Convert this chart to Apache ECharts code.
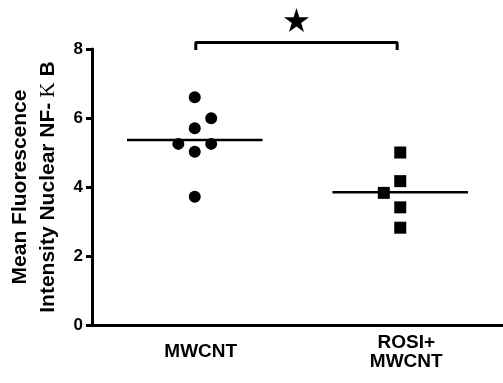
<!DOCTYPE html>
<html>
<head>
<meta charset="utf-8">
<script src="https://cdn.jsdelivr.net/npm/echarts@6/dist/echarts.min.js"></script>
<style>
  html, body { margin: 0; padding: 0; background: #fff; }
  #chart { width: 503px; height: 383px; }
</style>
</head>
<body>
<div id="chart"></div>
<script>
// groups and read-off values
const categories = ['MWCNT', 'ROSI+\nMWCNT'];
const mwcntValues = [6.60, 5.99, 5.70, 5.25, 5.25, 5.02, 3.72];
const mwcntJitter = [0, 0.16, 0, -0.16, 0.16, 0, 0];
const rosiValues = [5.00, 4.17, 3.83, 3.41, 2.82];
const rosiJitter = [0, 0, -0.16, 0, 0];
const yTicks = [0, 2, 4, 6, 8];

const groupPos = [1, 3];      // positions on the hidden value x axis
const meanHalf = 0.66;
const font = 'Liberation Sans, Arial, sans-serif';

const mean = (a) => a.reduce((s, v) => s + v, 0) / a.length;
const pts = (vals, jit, x0) => vals.map((v, i) => [x0 + jit[i], v]);
const meanLine = (vals, x0) => [[x0 - meanHalf, mean(vals)], [x0 + meanHalf, mean(vals)]];

const chart = echarts.init(document.getElementById('chart'));
chart.setOption({
  animation: false,
  grid: { left: 92, top: 49, bottom: 58, right: -9 },
  xAxis: [{
    type: 'category',
    data: categories,
    boundaryGap: true,
    axisLine: { lineStyle: { color: '#000', width: 3 } },
    axisTick: { show: false },
    axisLabel: {
      color: '#000', fontFamily: font, fontWeight: 'bold', fontSize: 19,
      lineHeight: 19, verticalAlign: 'middle', margin: 27,
      padding: [0, 0, 0, 12]
    }
  }, {
    type: 'value', min: 0, max: 4, show: false
  }],
  yAxis: {
    type: 'value', min: 0, max: 8, interval: 2,
    splitLine: { show: false },
    axisLine: { show: true, lineStyle: { color: '#000', width: 3 } },
    axisTick: { show: true, length: 6, lineStyle: { color: '#000', width: 3 } },
    axisLabel: {
      color: '#000', fontFamily: font, fontWeight: 'bold', fontSize: 17, margin: 9,
      formatter: (v) => (yTicks.includes(v) ? String(v) : '')
    },
    name: '{a|Mean Fluorescence}\n{a|Intensity Nuclear NF-}{k| Κ}{a| B}',
    nameLocation: 'middle',
    nameRotate: 90,
    nameGap: 30,
    nameTextStyle: {
      rich: {
        a: { fontFamily: font, fontWeight: 'bold', fontSize: 21, color: '#000', lineHeight: 28 },
        k: { fontFamily: 'Liberation Serif, serif', fontSize: 21, color: '#000', lineHeight: 28 }
      }
    }
  },
  series: [
    {
      type: 'scatter', xAxisIndex: 1, symbol: 'circle', symbolSize: 12,
      itemStyle: { color: '#000', opacity: 1 },
      data: pts(mwcntValues, mwcntJitter, groupPos[0])
    },
    {
      type: 'scatter', xAxisIndex: 1, symbol: 'rect', symbolSize: 12,
      itemStyle: { color: '#000', opacity: 1 },
      data: pts(rosiValues, rosiJitter, groupPos[1])
    },
    {
      type: 'line', xAxisIndex: 1, symbol: 'none',
      lineStyle: { color: '#000', width: 2.5 },
      data: meanLine(mwcntValues, groupPos[0])
    },
    {
      type: 'line', xAxisIndex: 1, symbol: 'none',
      lineStyle: { color: '#000', width: 2.5 },
      data: meanLine(rosiValues, groupPos[1])
    },
    {
      // significance bracket
      type: 'line', xAxisIndex: 1, symbol: 'none', clip: false,
      lineStyle: { color: '#000', width: 3 },
      data: [[1.01, 7.97], [1.01, 8.19], [2.97, 8.19], [2.97, 7.97]]
    },
    {
      type: 'scatter', xAxisIndex: 1, clip: false,
      symbol: 'path://M50,0 L61,35 L98,35 L68,57 L79,91 L50,70 L21,91 L32,57 L2,35 L39,35 Z',
      symbolSize: [25, 24],
      itemStyle: { color: '#000', opacity: 1 },
      data: [[1.99, 8.84]]
    }
  ]
});
</script>
</body>
</html>
